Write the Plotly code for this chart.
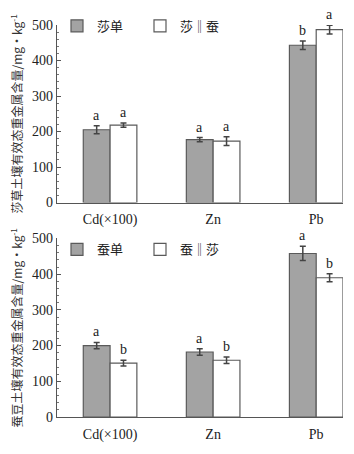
import plotly.graph_objects as go
from plotly.subplots import make_subplots

categories = ["Cd(×100)", "Zn", "Pb"]

# Top panel (莎草 soil)
top_names = ["莎单", "莎‖蚕"]
top_single = [205, 177, 443]
top_single_err = [11, 6, 12]
top_inter = [218, 173, 487]
top_inter_err = [6, 12, 12]
top_single_sig = ["a", "a", "b"]
top_inter_sig = ["a", "a", "a"]

# Bottom panel (蚕豆 soil)
bot_names = ["蚕单", "蚕‖莎"]
bot_single = [200, 182, 458]
bot_single_err = [9, 9, 20]
bot_inter = [151, 159, 390]
bot_inter_err = [8, 9, 11]
bot_single_sig = ["a", "a", "a"]
bot_inter_sig = ["b", "b", "b"]

yticks = [0, 100, 200, 300, 400, 500]
ytitle_top = "莎草土壤有效态重金属含量/mg·kg<sup>-1</sup>"
ytitle_bot = "蚕豆土壤有效态重金属含量/mg·kg<sup>-1</sup>"

GREY = "#a3a3a3"
EDGE = "#5a5a5a"
SERIF = "Liberation Serif"
CJK = "Noto Sans CJK SC"

fig = make_subplots(rows=2, cols=1, vertical_spacing=0.09)

panels = [
    (1, top_names, top_single, top_single_err, top_inter, top_inter_err, top_single_sig, top_inter_sig, "legend"),
    (2, bot_names, bot_single, bot_single_err, bot_inter, bot_inter_err, bot_single_sig, bot_inter_sig, "legend2"),
]

W = 0.13
for row, names, s, se, it, ie, ssig, isig, leg in panels:
    for name, vals, errs, color in [(names[0], s, se, GREY), (names[1], it, ie, "white")]:
        fig.add_trace(go.Bar(
            x=categories, y=vals, name=name, legend=leg,
            marker=dict(color=color, line=dict(color=EDGE, width=1.2)),
            error_y=dict(type="data", array=errs, color="#444", thickness=1.5, width=3),
        ), row=row, col=1)
    xref = "x" if row == 1 else "x2"
    yref = "y" if row == 1 else "y2"
    for i in range(3):
        for off, v, e, t in [(-W, s[i], se[i], ssig[i]), (W, it[i], ie[i], isig[i])]:
            fig.add_annotation(x=i + off, y=v + e, xref=xref, yref=yref, text=t,
                               showarrow=False, yanchor="bottom", yshift=1,
                               font=dict(family=SERIF, size=14, color="#222"))

axis_common = dict(range=[-0.515, 2.26], showline=True, linecolor="#555", linewidth=1.2,
                   ticks="", tickfont=dict(family=SERIF, size=14, color="#222"),
                   ticklabelstandoff=4, showgrid=False, zeroline=False)
fig.update_xaxes(**axis_common)
fig.update_yaxes(range=[0, 500], tickvals=yticks, showline=True, linecolor="#555", linewidth=1.2,
                 ticks="inside", ticklen=4, tickcolor="#555",
                 minor=dict(ticks="inside", ticklen=2, dtick=20, tickcolor="#777"),
                 tickfont=dict(family=SERIF, size=14, color="#222"),
                 showgrid=False, zeroline=False)
fig.update_yaxes(title=dict(text=ytitle_top, font=dict(family=CJK, size=12, color="#333"), standoff=6), row=1, col=1)
fig.update_yaxes(title=dict(text=ytitle_bot, font=dict(family=CJK, size=12, color="#333"), standoff=6), row=2, col=1)

leg_common = dict(orientation="h", xanchor="left", yanchor="top",
                  font=dict(family=CJK, size=13, color="#222"), bgcolor="rgba(0,0,0,0)",
                  itemwidth=30, entrywidth=38, tracegroupgap=0)
fig.update_layout(
    width=354, height=454,
    margin=dict(l=57, r=11, t=16, b=23),
    paper_bgcolor="white", plot_bgcolor="white",
    barmode="group", bargap=0.48, bargroupgap=0,
    yaxis=dict(domain=[0.547, 1.0]),
    yaxis2=dict(domain=[0.0, 0.4554]),
    legend=dict(x=0.0, y=1.036, **leg_common),
    legend2=dict(x=0.0, y=0.466, **leg_common),
)

fig.write_html("out.html")
